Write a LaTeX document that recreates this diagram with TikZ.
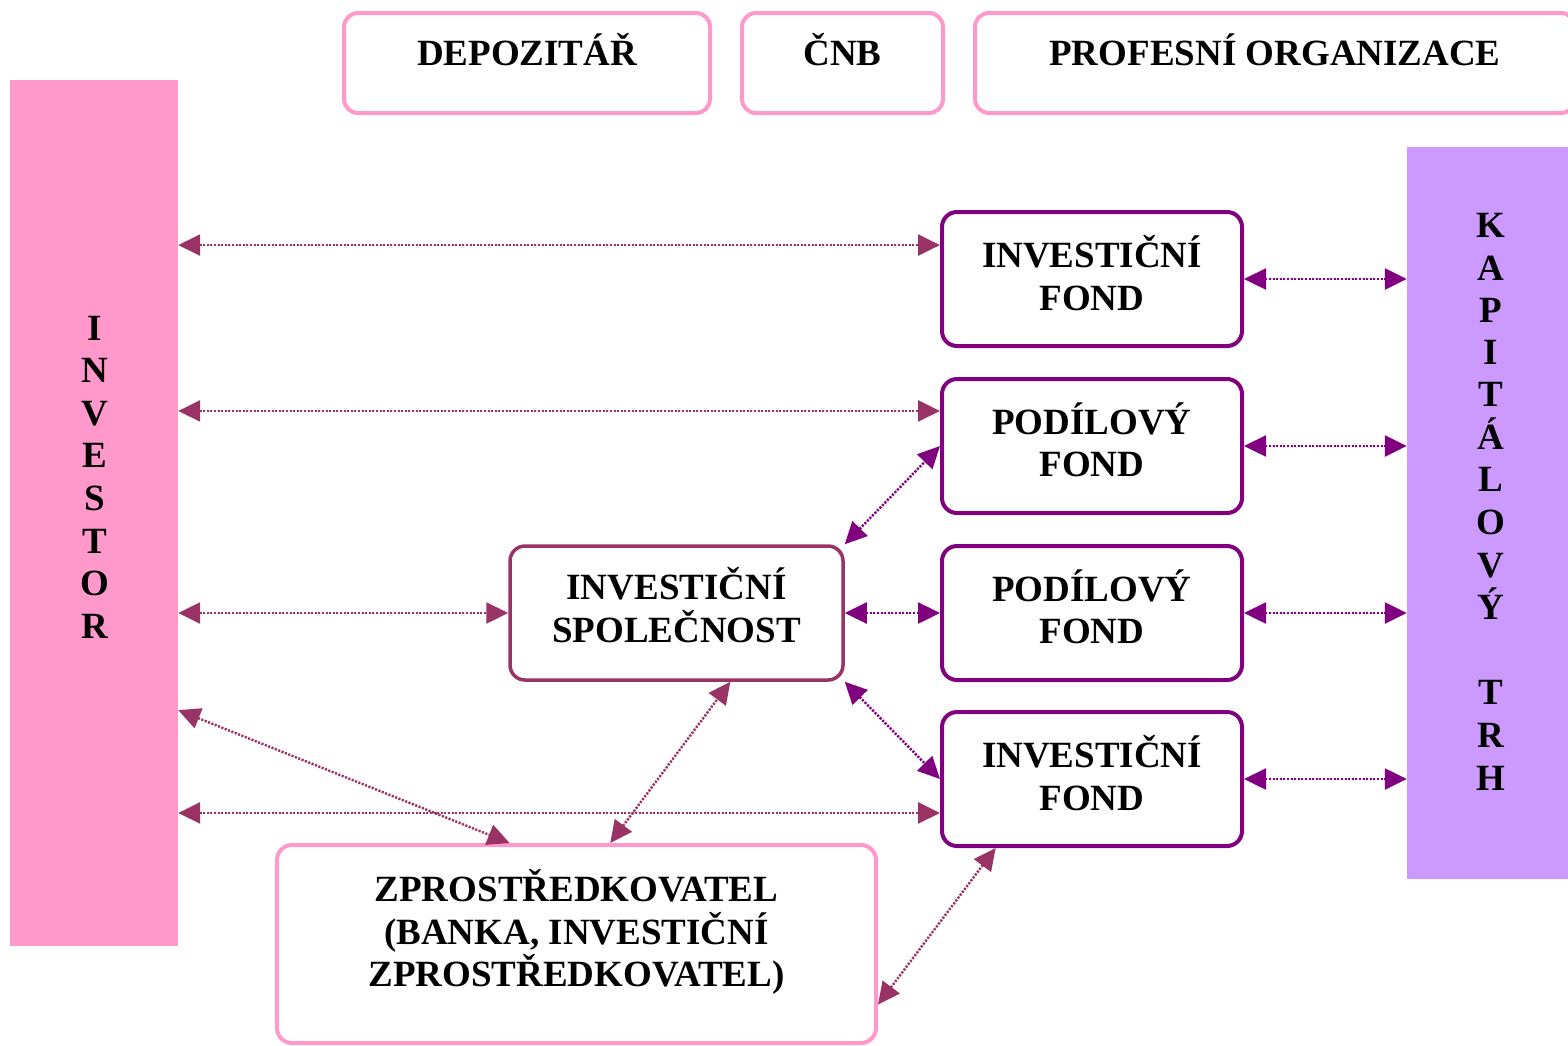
\documentclass[tikz,border=0pt]{standalone}
\usepackage{fontspec}
\setmainfont{Liberation Serif}
\usetikzlibrary{arrows.meta,calc}
\definecolor{pinkb}{HTML}{FF99CC}
\definecolor{lilac}{HTML}{CC99FF}
\definecolor{purp}{HTML}{800080}
\definecolor{maroonc}{HTML}{993366}
\begin{document}
\begin{tikzpicture}[x=1pt,y=-1pt,
  every node/.style={font=\fontsize{37}{42.5}\selectfont\bfseries},
  topbox/.style={draw=pinkb, line width=4pt, rounded corners=14pt, minimum height=100pt, text height=25pt, text depth=20pt, inner sep=0pt},
  fund/.style={draw=purp, line width=4pt, rounded corners=15pt, minimum width=300pt, minimum height=134pt, inner sep=0pt},
  txt/.style={align=center, inner sep=0pt},
  bar/.style={inner sep=0pt, draw=none},
  letter/.style={inner sep=0pt, text height=24pt, text depth=0pt},
  tip/.tip={Triangle[length=22pt,width=21pt]},
  arrm/.style={draw=maroonc, line width=2.5pt, dash pattern=on 2pt off 1.6pt, tip-tip, fill=maroonc},
  arrp/.style={draw=purp, line width=2.5pt, dash pattern=on 2pt off 1.6pt, tip-tip, fill=purp}]
\useasboundingbox (0,0) rectangle (1568,1045);
% side bars
\node[bar, fill=pinkb, minimum width=168pt, minimum height=866pt] (inv) at (94,513) {};
\node[bar, fill=lilac, minimum width=170pt, minimum height=732pt] (kt) at (1492,513) {};
\foreach \l [count=\i] in {I,N,V,E,S,T,O,R}
  \node[letter] (invl\i) at (95,{328+42.6*(\i-1)}) {\l};
\foreach \l/\yy [count=\i] in {K/225,A/268,P/310,I/352,T/394,Á/437,L/479,O/522,V/565,Ý/607,T/692,R/735,H/778}
  \node[letter] (ktl\i) at (1491,\yy) {\l};
% top boxes
\node[topbox, minimum width=366pt] (dep) at (527,63) {DEPOZITÁŘ};
\node[topbox, minimum width=201pt] (cnb) at (842.5,63) {ČNB};
\node[topbox, minimum width=600pt] (prof) at (1275,63) {PROFESNÍ ORGANIZACE};
% funds
\node[fund] (if1) at (1092,279) {};
\node[fund] (pf1) at (1092,446) {};
\node[fund] (pf2) at (1092,613) {};
\node[fund] (if2) at (1092,779) {};
\node[fund, draw=maroonc, line width=3.5pt, minimum width=333pt] (is) at (676.5,613) {};
\node[fund, draw=pinkb, minimum width=599pt, minimum height=198pt] (zp) at (576.5,944) {};
\node[txt] (if1t) at ([yshift=6pt]if1.center) {INVESTIČNÍ\\FOND};
\node[txt] (pf1t) at ([yshift=6pt]pf1.center) {PODÍLOVÝ\\FOND};
\node[txt] (pf2t) at ([yshift=6pt]pf2.center) {PODÍLOVÝ\\FOND};
\node[txt] (if2t) at ([yshift=6pt]if2.center) {INVESTIČNÍ\\FOND};
\node[txt] (ist) at ([yshift=8pt]is.center) {INVESTIČNÍ\\SPOLEČNOST};
\node[txt] (zpt) at ([yshift=12pt]zp.center) {ZPROSTŘEDKOVATEL\\(BANKA, INVESTIČNÍ\\ZPROSTŘEDKOVATEL)};
% anchor points
\coordinate (if1a) at ($(if1.north west)!0.254!(if1.south west)$);
\coordinate (pf1a) at ($(pf1.north west)!0.246!(pf1.south west)$);
\coordinate (if2a) at ($(if2.north west)!0.746!(if2.south west)$);
\coordinate (zpa) at ($(zp.north west)!0.389!(zp.north east)$);
\coordinate (zpb) at ($(zp.north west)!0.556!(zp.north east)$);
\coordinate (isb) at ($(is.south west)!0.66!(is.south east)$);
\coordinate (zpc) at ($(zp.north east)!0.80!(zp.south east)$);
\coordinate (if2b) at ($(if2.south west)!0.183!(if2.south east)$);
\coordinate (inva) at ($(inv.north east)!0.7275!(inv.south east)$);
% maroon connectors
\draw[arrm] (inv.east |- if1a) -- (if1a);
\draw[arrm] (inv.east |- pf1a) -- (pf1a);
\draw[arrm] (inv.east |- is.west) -- (is.west);
\draw[arrm] (inv.east |- if2a) -- (if2a);
\draw[arrm] (inva) -- (zpa);
\draw[arrm] (zpb) -- (isb);
\draw[arrm] (zpc) -- (if2b);
% purple connectors
\draw[arrp] (if1.east) -- (kt.west |- if1.east);
\draw[arrp] (pf1.east) -- (kt.west |- pf1.east);
\draw[arrp] (pf2.east) -- (kt.west |- pf2.east);
\draw[arrp] (if2.east) -- (kt.west |- if2.east);
\draw[arrp] (is.north east) -- (pf1.west);
\draw[arrp] (is.east) -- (pf2.west);
\draw[arrp] (is.south east) -- (if2.west);
\end{tikzpicture}
\end{document}
